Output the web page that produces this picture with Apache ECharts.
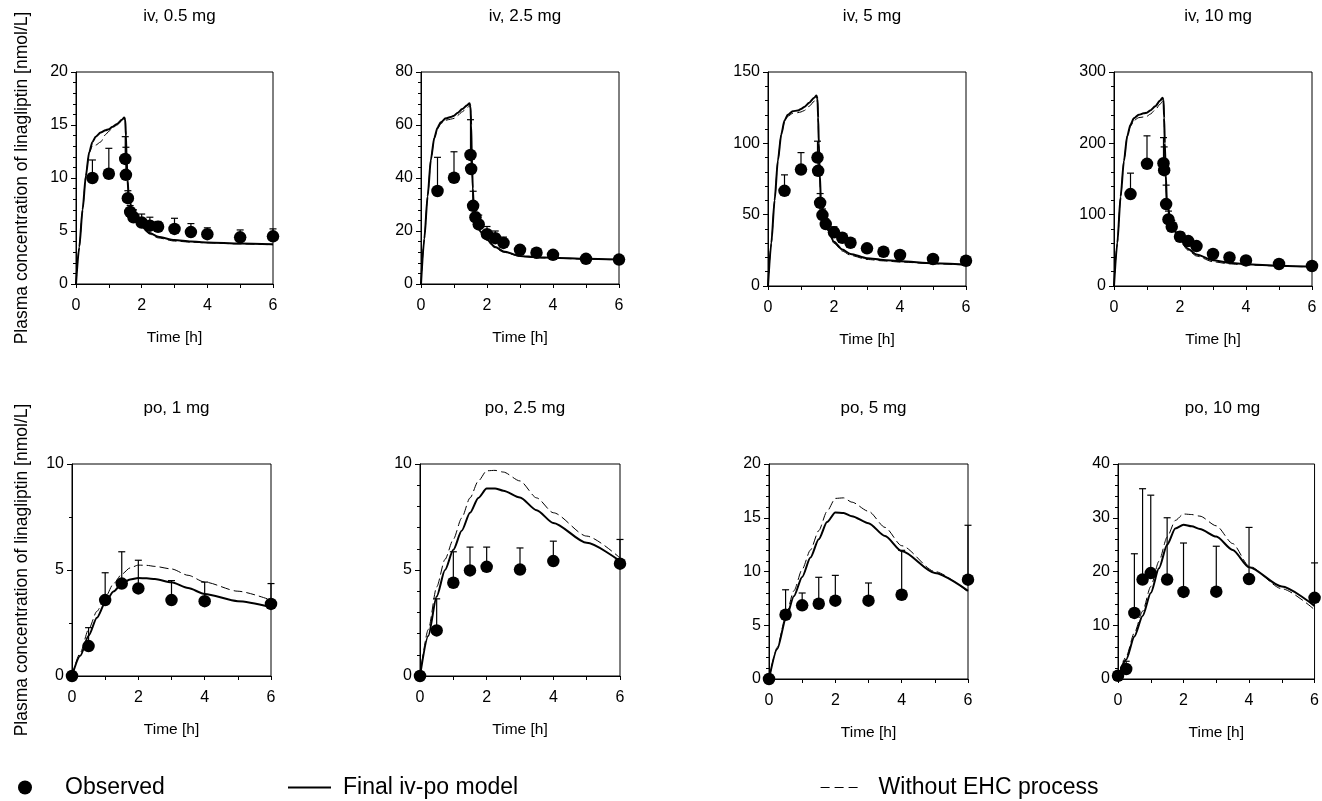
<!DOCTYPE html>
<html>
<head>
<meta charset="utf-8">
<script src="https://cdn.jsdelivr.net/npm/echarts@6/dist/echarts.min.js"></script>
<style>
html,body{margin:0;padding:0;background:#fff;}
#chart{width:1322px;height:801px;}
</style>
</head>
<body>
<div id="chart"></div>
<script>
// ---------- panel titles & axis setup ----------
const panelTitles = ['iv, 0.5 mg','iv, 2.5 mg','iv, 5 mg','iv, 10 mg','po, 1 mg','po, 2.5 mg','po, 5 mg','po, 10 mg'];
const yMax      = [20, 80, 150, 300, 10, 10, 20, 40];
const yInterval = [5, 20, 50, 100, 5, 5, 5, 10];
const yMinorSplit = [5, 5, 5, 5, 2, 5, 5, 5];
const xTicks = [0, 2, 4, 6];
const xAxisName = 'Time [h]';
const yAxisName = 'Plasma concentration of linagliptin [nmol/L]';
const legendNames = ['Observed', 'Final iv-po model', 'Without EHC process'];

// ---------- observed data (time, mean, upper error) ----------
const ivObsTime = [0.5, 1, 1.5, 1.52, 1.58, 1.65, 1.75, 2, 2.25, 2.5, 3, 3.5, 4, 5, 6];
const poObsTime = [0, 0.5, 1, 1.5, 2, 3, 4, 6];
const po10ObsTime = [0, 0.25, 0.5, 0.75, 1, 1.5, 2, 3, 4, 6];

const obsIv05  = [10.0, 10.4, 11.8, 10.3, 8.1, 6.8, 6.3, 5.8, 5.5, 5.4, 5.2, 4.9, 4.7, 4.4, 4.5];
const upIv05   = [11.7, 12.8, 13.9, 12.9, 8.8, 7.4, 7.0, 6.6, 6.3, 5.9, 6.2, 5.7, 5.3, 5.1, 5.2];
const obsIv25  = [35.1, 40.1, 48.7, 43.4, 29.5, 25.2, 22.5, 18.8, 17.3, 15.5, 12.9, 11.8, 11.0, 9.5, 9.2];
const upIv25   = [47.8, 49.9, 62.0, 50.0, 35.0, 27.0, 26.0, 21.7, 20.0, 17.7, 14.0, 13.0, 12.0, 10.3, 10.0];
const obsIv5   = [66.7, 81.6, 90.0, 80.7, 58.3, 49.7, 43.4, 37.6, 33.8, 30.3, 26.4, 24.0, 21.7, 18.9, 17.7];
const upIv5    = [77.9, 93.5, 101.5, 92.0, 64.8, 54.0, 47.0, 41.5, 36.9, 33.0, 28.0, 26.0, 23.5, 20.5, 19.0];
const obsIv10  = [128.8, 171.3, 172.2, 162.4, 114.8, 93.3, 83.1, 69.0, 63.0, 56.0, 44.8, 40.1, 35.9, 30.8, 28.0];
const upIv10   = [158.2, 210.5, 208.0, 195.0, 141.4, 105.0, 92.0, 76.0, 68.0, 60.0, 48.0, 43.0, 38.5, 33.0, 30.0];
const obsPo1   = [0, 1.41, 3.58, 4.36, 4.13, 3.58, 3.53, 3.40];
const upPo1    = [0, 2.28, 4.87, 5.86, 5.46, 4.50, 4.43, 4.36];
const obsPo25  = [0, 2.15, 4.40, 4.98, 5.15, 5.02, 5.42, 5.30];
const upPo25   = [0, 3.64, 5.86, 6.08, 6.08, 6.04, 6.36, 6.44];
const obsPo5   = [0, 5.98, 6.85, 7.00, 7.29, 7.29, 7.84, 9.24];
const upPo5    = [0, 8.30, 8.00, 9.46, 9.64, 8.93, 11.97, 14.30];
const obsPo10  = [0.6, 1.86, 12.3, 18.5, 19.7, 18.5, 16.2, 16.25, 18.6, 15.1];
const upPo10   = [0.6, 3.30, 23.3, 35.4, 34.2, 30.0, 25.3, 24.7, 28.2, 21.6];

// ---------- model curves ----------
const ivModelTime = [0, 0.1, 0.2, 0.3, 0.4, 0.5, 0.6, 0.75, 0.9, 1.0, 1.1, 1.25, 1.4, 1.47, 1.5, 1.52, 1.54, 1.57, 1.6, 1.7, 1.8, 2.0, 2.25, 2.5, 3, 3.5, 4, 5, 6];
const finIv05 = [0, 3.5, 7.0, 10.2, 12.4, 13.4, 13.9, 14.3, 14.5, 14.6, 14.8, 15.1, 15.5, 15.7, 15.5, 14.0, 12.0, 9.8, 8.6, 7.0, 6.2, 5.4, 4.8, 4.45, 4.15, 4.0, 3.92, 3.82, 3.75];
const ehcIv05 = [0, 3.5, 7.0, 10.2, 12.4, 13.0, 13.1, 13.4, 14.1, 14.4, 14.7, 15.0, 15.4, 15.6, 15.4, 13.9, 11.9, 9.7, 8.5, 6.9, 6.1, 5.3, 4.7, 4.35, 4.05, 3.95, 3.88, 3.78, 3.7];
const finIv25 = [0, 17, 33, 47, 55, 59, 61, 62.5, 63, 63.5, 64.5, 66, 67.5, 68.2, 67, 60, 48, 36, 29, 23, 19.8, 16.7, 14, 12.3, 10.6, 10.1, 9.9, 9.5, 9.2];
const ehcIv25 = [0, 17, 33, 47, 55, 58.5, 60.5, 61.8, 62.2, 62.5, 63.5, 65, 66.5, 67.2, 66.2, 59, 47, 35, 28.5, 22.5, 19.3, 16.2, 13.6, 12.0, 10.4, 9.9, 9.7, 9.4, 9.1];
const finIv5  = [0, 30, 60, 88, 106, 116, 120, 122.5, 123, 124, 125.5, 128.5, 132, 133.5, 131, 118, 100, 78, 62, 48, 40, 31, 25.5, 22.5, 19.5, 18.3, 17.4, 16.0, 15.0];
const ehcIv5  = [0, 30, 60, 88, 106, 115, 119, 121, 121.5, 122, 123, 126, 129.5, 131, 129, 116, 98, 76, 60, 46.5, 39, 30, 24.5, 21.5, 18.6, 17.6, 16.8, 15.6, 14.7];
const finIv10 = [0, 60, 125, 175, 210, 226, 235, 240, 242, 243, 246, 252, 260, 264, 261, 235, 200, 155, 122, 95, 80, 65, 52, 44, 36, 32.5, 30.5, 28.5, 27];
const ehcIv10 = [0, 60, 125, 175, 210, 224, 232, 236, 237, 238, 241, 247, 255, 259, 256, 230, 195, 150, 118, 92, 77, 62, 50, 42, 34, 31, 29.5, 28, 26.5];

const poModelTime = [0, 0.25, 0.5, 0.75, 1, 1.25, 1.5, 1.75, 2, 2.25, 2.5, 3, 3.5, 4, 5, 6];
const finPo1  = [0, 0.95, 1.9, 2.75, 3.45, 3.98, 4.35, 4.55, 4.62, 4.61, 4.57, 4.42, 4.15, 3.87, 3.53, 3.25];
const ehcPo1  = [0, 1.1, 2.2, 3.05, 3.7, 4.35, 4.8, 5.1, 5.23, 5.22, 5.17, 5.05, 4.75, 4.43, 4.0, 3.58];
const finPo25 = [0, 1.9, 3.75, 5.0, 5.95, 6.85, 7.7, 8.4, 8.84, 8.85, 8.74, 8.42, 7.82, 7.22, 6.28, 5.42];
const ehcPo25 = [0, 2.2, 4.2, 5.5, 6.45, 7.45, 8.4, 9.2, 9.68, 9.7, 9.62, 9.2, 8.4, 7.7, 6.6, 5.57];
const finPo5  = [0, 2.8, 5.5, 7.7, 9.5, 11.3, 13.0, 14.6, 15.5, 15.45, 15.15, 14.5, 13.3, 11.9, 9.86, 8.2];
const ehcPo5  = [0, 2.95, 5.8, 8.2, 10.2, 12.0, 13.8, 15.6, 16.8, 16.85, 16.45, 15.6, 14.1, 12.4, 10.0, 8.1];
const finPo10 = [0, 3.6, 7.9, 11.7, 16.0, 20.6, 25.0, 28.0, 28.7, 28.4, 27.9, 26.5, 24.0, 20.8, 17.2, 13.6];
const ehcPo10 = [0, 4.2, 8.6, 12.6, 17.2, 21.9, 26.4, 29.5, 30.7, 30.6, 30.3, 28.5, 25.2, 21.0, 16.8, 12.9];

const panels = [
  {t: ivObsTime, obs: obsIv05, up: upIv05, mt: ivModelTime, fin: finIv05, ehc: ehcIv05},
  {t: ivObsTime, obs: obsIv25, up: upIv25, mt: ivModelTime, fin: finIv25, ehc: ehcIv25},
  {t: ivObsTime, obs: obsIv5,  up: upIv5,  mt: ivModelTime, fin: finIv5,  ehc: ehcIv5},
  {t: ivObsTime, obs: obsIv10, up: upIv10, mt: ivModelTime, fin: finIv10, ehc: ehcIv10},
  {t: poObsTime, obs: obsPo1,  up: upPo1,  mt: poModelTime, fin: finPo1,  ehc: ehcPo1},
  {t: poObsTime, obs: obsPo25, up: upPo25, mt: poModelTime, fin: finPo25, ehc: ehcPo25},
  {t: poObsTime, obs: obsPo5,  up: upPo5,  mt: poModelTime, fin: finPo5,  ehc: ehcPo5},
  {t: po10ObsTime, obs: obsPo10, up: upPo10, mt: poModelTime, fin: finPo10, ehc: ehcPo10}
];

// ---------- layout ----------
const gridBoxes = [
  {left: 76,   top: 72,  width: 197, height: 212},
  {left: 421,  top: 72,  width: 198, height: 212},
  {left: 768,  top: 72,  width: 198, height: 214},
  {left: 1114, top: 72,  width: 198, height: 214},
  {left: 72,   top: 464, width: 199, height: 212},
  {left: 420,  top: 464, width: 200, height: 212},
  {left: 769,  top: 464, width: 199, height: 215},
  {left: 1118, top: 464, width: 199, height: 215}
];

const FONT = '"Liberation Sans", Arial, sans-serif';

function zip(a, b) { return a.map((v, i) => [v, b[i]]); }

function renderErr(params, api) {
  const x = api.value(0), y = api.value(1), up = api.value(2);
  if (!(up > y)) return null;
  const p0 = api.coord([x, y]);
  const p1 = api.coord([x, up]);
  return {
    type: 'group',
    children: [
      {type: 'line', shape: {x1: p0[0], y1: p0[1], x2: p1[0], y2: p1[1]}, style: {stroke: '#000', lineWidth: 1.2}},
      {type: 'line', shape: {x1: p1[0] - 3.5, y1: p1[1], x2: p1[0] + 3.5, y2: p1[1]}, style: {stroke: '#000', lineWidth: 1.2}}
    ]
  };
}

const grids = [], xAxes = [], yAxes = [], series = [], titles = [];
panels.forEach((p, i) => {
  const g = gridBoxes[i];
  const top = i < 4;
  grids.push(Object.assign({show: true, borderColor: '#000', borderWidth: 1, containLabel: false}, g));
  titles.push({
    text: panelTitles[i],
    left: g.left + g.width / 2,
    top: top ? 3 : 395,
    textAlign: 'center',
    textStyle: {fontFamily: FONT, fontSize: 17, fontWeight: 'normal', color: '#000'}
  });
  xAxes.push({
    type: 'value', gridIndex: i, min: 0, max: 6, interval: 2,
    name: xAxisName, nameLocation: 'middle', nameGap: 46,
    nameTextStyle: {fontFamily: FONT, fontSize: 15.5, color: '#000'},
    axisLine: {show: true, onZero: false, lineStyle: {color: '#000', width: 1}},
    axisTick: {show: true, inside: false, length: 4, lineStyle: {color: '#000'}},
    minorTick: {show: true, splitNumber: 2, length: 4, lineStyle: {color: '#000'}},
    axisLabel: {fontFamily: FONT, fontSize: 16, color: '#000', margin: 14},
    splitLine: {show: false}
  });
  yAxes.push({
    type: 'value', gridIndex: i, min: 0, max: yMax[i], interval: yInterval[i],
    name: (i === 0 || i === 4) ? yAxisName : '',
    nameLocation: 'middle', nameGap: i === 0 ? 45 : 41,
    nameTextStyle: {fontFamily: FONT, fontSize: 17.5, color: '#000'},
    axisLine: {show: true, onZero: false, lineStyle: {color: '#000', width: 1}},
    axisTick: {show: true, inside: false, length: 5, lineStyle: {color: '#000'}},
    minorTick: {show: true, splitNumber: yMinorSplit[i], length: 3, lineStyle: {color: '#000'}},
    axisLabel: {fontFamily: FONT, fontSize: 16, color: '#000', margin: 8},
    splitLine: {show: false}
  });
  series.push({
    name: legendNames[1], type: 'line', xAxisIndex: i, yAxisIndex: i,
    data: zip(p.mt, p.fin), symbol: 'none', smooth: 0.25, smoothMonotone: 'x',
    lineStyle: {color: '#000', width: 2}, itemStyle: {color: '#000'}, z: 2, silent: true, animation: false
  });
  series.push({
    name: legendNames[2], type: 'line', xAxisIndex: i, yAxisIndex: i,
    data: zip(p.mt, p.ehc), symbol: 'none', smooth: 0.25, smoothMonotone: 'x',
    lineStyle: {color: '#000', width: 1, type: [9, 4]}, itemStyle: {color: '#000'}, z: 2, silent: true, animation: false
  });
  series.push({
    name: 'SD', type: 'custom', xAxisIndex: i, yAxisIndex: i,
    data: p.t.map((t, k) => [t, p.obs[k], p.up[k]]),
    encode: {x: 0, y: [1, 2]}, renderItem: renderErr, z: 3, silent: true, animation: false
  });
  series.push({
    name: legendNames[0], type: 'scatter', xAxisIndex: i, yAxisIndex: i,
    data: zip(p.t, p.obs), symbol: 'circle', symbolSize: 12.5, clip: false,
    itemStyle: {color: '#000', opacity: 1}, z: 4, silent: true, animation: false
  });
});

const legendText = {fontFamily: FONT, fontSize: 23, color: '#000'};
const legends = [
  {data: [{name: legendNames[0], icon: 'circle'}], left: 13, top: 771, itemWidth: 14, itemHeight: 14,
   textStyle: Object.assign({padding: [0, 0, 0, 28]}, legendText), selectedMode: false},
  {data: [{name: legendNames[1]}], left: 282, top: 771, itemWidth: 43, itemHeight: 14,
   itemStyle: {opacity: 0}, lineStyle: {width: 2, opacity: 1},
   textStyle: Object.assign({padding: [0, 0, 0, 7]}, legendText), selectedMode: false},
  {data: [{name: legendNames[2]}], left: 815, top: 771, itemWidth: 38, itemHeight: 14,
   itemStyle: {opacity: 0}, lineStyle: {width: 1.2, opacity: 1, type: [9, 5]},
   textStyle: Object.assign({padding: [0, 0, 0, 15]}, legendText), selectedMode: false}
];

const chart = echarts.init(document.getElementById('chart'), null, {renderer: 'canvas'});
chart.setOption({
  backgroundColor: '#fff',
  animation: false,
  title: titles,
  legend: legends,
  grid: grids,
  xAxis: xAxes,
  yAxis: yAxes,
  series: series
});
</script>
</body>
</html>
